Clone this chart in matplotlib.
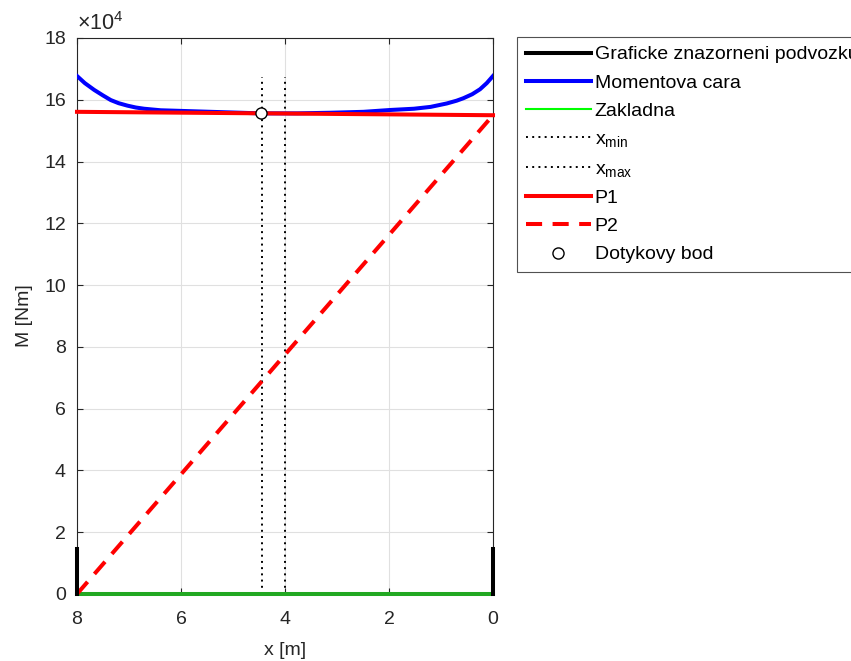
import matplotlib
matplotlib.use("Agg")
import matplotlib.pyplot as plt
from matplotlib.ticker import FuncFormatter
from matplotlib.lines import Line2D

plt.rcParams['font.family'] = ['Liberation Sans', 'DejaVu Sans']
plt.rcParams['mathtext.fontset'] = 'custom'
plt.rcParams['mathtext.rm'] = 'Liberation Sans'
plt.rcParams['mathtext.it'] = 'Liberation Sans'

# --- data ---
support_x = [8.0, 0.0]
support_h = 1.45e4

moment_x = [8.0, 7.85, 7.67, 7.5, 7.35, 7.2, 7.03, 6.87, 6.71, 6.39, 6.0, 5.43, 4.47, 3.76,
            3.12, 2.49, 1.97, 1.52, 1.2, 0.89, 0.7, 0.57, 0.4, 0.25, 0.12, 0.0]
moment_y = [16.77e4, 16.54e4, 16.32e4, 16.14e4, 15.99e4, 15.89e4, 15.81e4, 15.75e4,
            15.71e4, 15.66e4, 15.64e4, 15.61e4, 15.56e4, 15.56e4, 15.58e4, 15.61e4,
            15.67e4, 15.71e4, 15.77e4, 15.88e4, 15.97e4, 16.05e4, 16.18e4, 16.34e4,
            16.54e4, 16.77e4]

base_x = [8.0, 0.0]
base_y = [0.0, 0.0]

x_min = 4.45
x_max = 4.0
dotted_top = 16.75e4

p1_x = [8.0, 0.0]
p1_y = [15.61e4, 15.50e4]

p2_x = [8.0, 0.0]
p2_y = [0.0, 15.50e4]

touch_x = [4.47]
touch_y = [15.56e4]

x_ticks = [8, 6, 4, 2, 0]
y_ticks = [0, 2e4, 4e4, 6e4, 8e4, 10e4, 12e4, 14e4, 16e4, 18e4]

labels = ['Graficke znazorneni podvozku', 'Momentova cara', 'Zakladna',
          r'x$_{\mathrm{min}}$', r'x$_{\mathrm{max}}$', 'P1', 'P2', 'Dotykovy bod']

txt = '#262626'
fs = 14

fig = plt.figure(figsize=(8.51, 6.61), dpi=100)
ax = fig.add_axes([77/851, 1 - 594/661, (493 - 77)/851, (594 - 38)/661])

lw = 2.9
h_sup, = ax.plot([support_x[0], support_x[0]], [0, support_h], color='black', lw=lw,
                 zorder=4, clip_on=False)
ax.plot([support_x[1], support_x[1]], [0, support_h], color='black', lw=lw, zorder=4,
        clip_on=False)
h_mom, = ax.plot(moment_x, moment_y, color='#0000ff', lw=lw, zorder=3,
                 solid_joinstyle='round')
ax.plot(base_x, base_y, color='#22a822', lw=lw, zorder=3, clip_on=False)
h_base = Line2D([], [], color='#00ff00', lw=1.5)
dot = (0, (1, 2.2))
h_xmin, = ax.plot([x_min, x_min], [0, dotted_top], color='black', lw=1.4, ls=dot, zorder=2)
h_xmax, = ax.plot([x_max, x_max], [0, dotted_top], color='black', lw=1.4, ls=dot, zorder=2)
h_p1, = ax.plot(p1_x, p1_y, color='#ff0000', lw=lw, zorder=3, clip_on=False)
h_p2, = ax.plot(p2_x, p2_y, color='#ff0000', lw=lw, ls=(0, (4, 2.6)), zorder=3, clip_on=False)
h_pt, = ax.plot(touch_x, touch_y, 'o', ms=8, mfc='white', mec='black', mew=1.0, zorder=5)

ax.set_xlim(8, 0)
ax.set_ylim(0, 18e4)
ax.set_xticks(x_ticks)
ax.set_yticks(y_ticks)
ax.yaxis.set_major_formatter(FuncFormatter(lambda v, p: f'{v/1e4:g}'))
ax.tick_params(direction='in', length=4, width=0.8, colors=txt, labelsize=fs,
               top=True, right=True)
ax.tick_params(axis='x', pad=12)
ax.tick_params(axis='y', pad=8)
ax.grid(True, color='#e0e0e0', lw=0.8)
ax.set_axisbelow(True)
for s in ax.spines.values():
    s.set_color(txt)
    s.set_linewidth(0.8)

ax.set_xlabel('x [m]', fontsize=fs, color=txt, labelpad=10)
ax.set_ylabel('M [Nm]', fontsize=fs, color=txt, labelpad=8)
ax.text(0.0, 1.006, r'$\times$10$^{4}$', transform=ax.transAxes, fontsize=15.5,
        color=txt, ha='left', va='bottom')

handles = [h_sup, h_mom, h_base, h_xmin, h_xmax, h_p1, h_p2, h_pt]
leg = fig.legend(handles, labels, loc='upper left', bbox_to_anchor=(517/851, 1 - 37/661),
                 fontsize=fs, handlelength=3.35, handletextpad=0.2, labelspacing=0.55,
                 borderpad=0.45, borderaxespad=0, fancybox=False, frameon=True,
                 labelcolor='black')
leg.get_frame().set_edgecolor(txt)
leg.get_frame().set_linewidth(0.8)

fig.savefig('out.png', dpi=100)
